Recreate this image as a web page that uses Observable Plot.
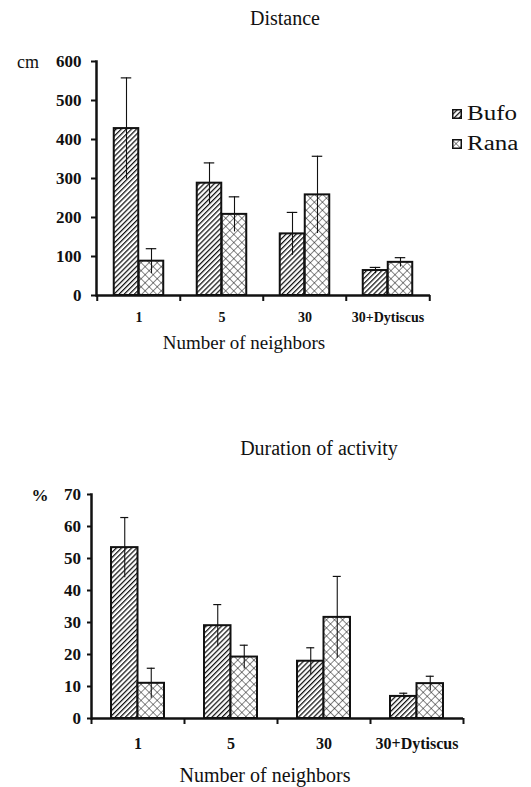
<!DOCTYPE html>
<html>
<head>
<meta charset="utf-8">
<script src="https://cdn.jsdelivr.net/npm/d3@7"></script>
<script src="https://cdn.jsdelivr.net/npm/@observablehq/plot@0.6"></script>
<style>
  html, body { margin: 0; padding: 0; background: #fff; }
  #page { position: relative; width: 531px; height: 787px; overflow: hidden; font-family: "Liberation Serif", "Times New Roman", serif; color: #111; }
  .t { position: absolute; white-space: nowrap; line-height: 1; }
  .chart { position: absolute; left: 0; }
  .chart text { font-family: "Liberation Serif", "Times New Roman", serif; }
  .leg { position: absolute; display: flex; align-items: center; }
  .leg span { display: inline-block; font-size: 20px; transform: scaleX(1.25); transform-origin: left center; margin-left: 5px; }
</style>
</head>
<body>
<div id="page">
  <svg width="0" height="0" style="position:absolute">
    <defs>
      <pattern id="bufoHatch" patternUnits="userSpaceOnUse" width="3.6" height="3.6" patternTransform="rotate(45)">
        <rect width="3.6" height="3.6" fill="#fff"></rect>
        <line x1="0.6" y1="0" x2="0.6" y2="3.6" stroke="#111" stroke-width="1.3"></line>
      </pattern>
      <pattern id="ranaHatch" patternUnits="userSpaceOnUse" width="5.7" height="5.7" patternTransform="rotate(45)">
        <rect width="5.7" height="5.7" fill="#fff"></rect>
        <line x1="0" y1="0" x2="0" y2="5.7" stroke="#111" stroke-width="1"></line>
        <line x1="0" y1="0" x2="5.7" y2="0" stroke="#111" stroke-width="1"></line>
      </pattern>
    </defs>
  </svg>
</div>
<script>
// ---- data ----
const groups = ["1", "5", "30", "30+Dytiscus"];
const species = ["Bufo", "Rana"];
const distTicks = [0, 100, 200, 300, 400, 500, 600];
const distBufo = [428, 288, 158, 64];
const distBufoErr = [130, 52, 55, 8];
const distRana = [88, 208, 258, 85];
const distRanaErr = [32, 45, 99, 12];
const durTicks = [0, 10, 20, 30, 40, 50, 60, 70];
const durBufo = [53.4, 29.0, 17.9, 6.9];
const durBufoErr = [9.4, 6.6, 4.2, 1.0];
const durRana = [11.0, 19.2, 31.6, 10.9];
const durRanaErr = [4.7, 3.7, 12.8, 2.3];

const serif = "Liberation Serif, Times New Roman, serif";
const rows = (vals, errs) => groups.map((g, i) => ({g, v: vals[i], e: errs[i]}));

function chart(o) {
  const half = o.band / 2;
  const bw = o.barW;
  const cap = o.cap;
  const bufo = rows(o.bufo, o.bufoErr);
  const rana = rows(o.rana, o.ranaErr);
  return Plot.plot({
    width: 531,
    height: o.height,
    marginLeft: o.ml, marginRight: o.mr, marginTop: o.mt, marginBottom: o.mb,
    x: {domain: groups, padding: 0, axis: null, label: null},
    y: {domain: [0, o.ymax], axis: null, label: null},
    style: {fontFamily: serif, background: "transparent", color: "#111"},
    marks: [
      Plot.barY(bufo, {x: "g", y: "v", fill: "url(#bufoHatch)", stroke: "#111", strokeWidth: 2, insetLeft: half - bw, insetRight: half}),
      Plot.barY(rana, {x: "g", y: "v", fill: "url(#ranaHatch)", stroke: "#111", strokeWidth: 2, insetLeft: half, insetRight: half - bw}),
      Plot.ruleX(bufo, {x: "g", y1: d => d.v - d.e, y2: d => d.v + d.e, dx: -bw / 2, stroke: "#111", strokeWidth: 1.1}),
      Plot.ruleX(rana, {x: "g", y1: d => d.v - d.e, y2: d => d.v + d.e, dx: bw / 2, stroke: "#111", strokeWidth: 1.1}),
      Plot.tickY(bufo, {x: "g", y: d => d.v + d.e, insetLeft: half - bw / 2 - cap, insetRight: half + bw / 2 - cap, stroke: "#111", strokeWidth: 1.2}),
      Plot.tickY(rana, {x: "g", y: d => d.v + d.e, insetLeft: half + bw / 2 - cap, insetRight: half - bw / 2 - cap, stroke: "#111", strokeWidth: 1.2}),
      Plot.frame({anchor: "left", stroke: "#111", strokeWidth: 2.5}),
      Plot.ruleY([0], {stroke: "#111", strokeWidth: 2.5}),
      Plot.axisY({ticks: o.ticks, label: null, tickSize: o.ytick, tickPadding: o.ypad, fontSize: o.yfont, fontWeight: "bold", fontFamily: serif, strokeWidth: 2, tickFormat: d => String(d)}),
      Plot.axisX({label: null, tickSize: 0, tickPadding: o.xpad, fontSize: o.xfont, fontWeight: "bold", fontFamily: serif}),
      Plot.ruleX(groups, {x: d => d, y1: 0, y2: 0, insetBottom: -6, dx: -half, stroke: "#111", strokeWidth: 2}),
      Plot.ruleX(groups.slice(-1), {x: d => d, y1: 0, y2: 0, insetBottom: -6, dx: half, stroke: "#111", strokeWidth: 2})
    ]
  });
}

const page = document.getElementById("page");

const topChart = chart({
  height: 360, ml: 96, mr: 101, mt: 61, mb: 65,
  band: 83.5, barW: 25, cap: 5.5, ymax: 600, ticks: distTicks,
  bufo: distBufo, bufoErr: distBufoErr, rana: distRana, ranaErr: distRanaErr,
  ytick: 5, ypad: 10, yfont: 17, xpad: 17, xfont: 14
});
topChart.classList.add("chart");
topChart.style.top = "0px";
page.appendChild(topChart);

const bottomChart = chart({
  height: 317, ml: 91, mr: 68, mt: 24, mb: 69,
  band: 93, barW: 26.5, cap: 4, ymax: 70, ticks: durTicks,
  bufo: durBufo, bufoErr: durBufoErr, rana: durRana, ranaErr: durRanaErr,
  ytick: 4, ypad: 6.5, yfont: 17, xpad: 19, xfont: 16
});
bottomChart.classList.add("chart");
bottomChart.style.top = "470px";
page.appendChild(bottomChart);

function label(text, cx, cy, size, extra) {
  const d = document.createElement("div");
  d.className = "t";
  d.textContent = text;
  d.style.fontSize = size + "px";
  Object.assign(d.style, extra || {});
  page.appendChild(d);
  const w = d.getBoundingClientRect().width;
  d.style.left = (cx - w / 2) + "px";
  d.style.top = (cy - size / 2) + "px";
  return d;
}

label("Distance", 285, 18, 20);
label("Number of neighbors", 244, 342, 19);
label("cm", 28, 62, 18);
label("Duration of activity", 319, 448, 20);
label("Number of neighbors", 265, 775, 20);
label("%", 40, 495, 17, {fontWeight: "bold"});

function legend(name, pat, y) {
  const d = document.createElement("div");
  d.className = "leg";
  d.style.left = "452px";
  d.style.top = y + "px";
  d.innerHTML = `<svg width="10" height="10"><rect x="0.75" y="0.75" width="8.5" height="8.5" fill="url(#${pat})" stroke="#111" stroke-width="1.5"></rect></svg><span>${name}</span>`;
  page.appendChild(d);
}
legend(species[0], "bufoHatch", 102);
legend(species[1], "ranaHatch", 132);
</script>
</body>
</html>
